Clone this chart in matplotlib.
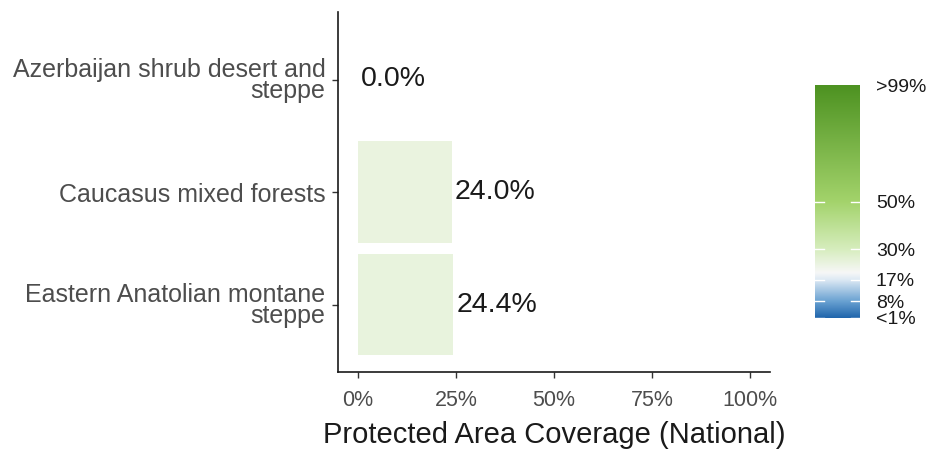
import numpy as np
import matplotlib
matplotlib.use("Agg")
import matplotlib.pyplot as plt
from matplotlib.colors import LinearSegmentedColormap, Normalize

plt.rcParams['font.family'] = ['Liberation Sans', 'DejaVu Sans']

ecoregions = ["Azerbaijan shrub desert and\nsteppe",
              "Caucasus mixed forests",
              "Eastern Anatolian montane\nsteppe"]
coverage = [0.0, 24.0, 24.4]

x_ticks = [0, 25, 50, 75, 100]
x_tick_labels = ["0%", "25%", "50%", "75%", "100%"]

legend_ticks = [1, 8, 17, 30, 50, 99]
legend_labels = ["<1%", "8%", "17%", "30%", "50%", ">99%"]

# colour stops of the coverage scale (value, colour)
stop_values = [1, 8, 17, 20, 30, 50, 99]
stop_colours = ["#2166ac", "#6aa2d2", "#dde9f4", "#f7f7f7",
                "#d6edbd", "#a3d36b", "#4d9221"]


def main():
    norm = Normalize(vmin=1, vmax=99)
    cmap = LinearSegmentedColormap.from_list(
        "pa", list(zip([norm(v) for v in stop_values], stop_colours)))

    fig = plt.figure(figsize=(9.4, 4.49), dpi=100)
    ax = fig.add_axes([338 / 940, 1 - 372 / 449, 432 / 940, 360 / 449])

    y = np.arange(len(ecoregions))
    ax.barh(y, coverage, height=0.9, color=[cmap(norm(v)) for v in coverage])
    for yi, v in zip(y, coverage):
        ax.text(v + 0.8, yi, f"{v:.1f}%", ha="left", va="center",
                fontsize=20.5, color="#1a1a1a")

    ax.set_xlim(-5, 105)
    ax.set_ylim(len(ecoregions) - 0.4, -0.6)
    ax.set_xticks(x_ticks)
    ax.set_xticklabels(x_tick_labels)
    ax.set_yticks(y)
    ax.set_yticklabels(ecoregions, linespacing=0.85)
    ax.tick_params(axis="both", labelcolor="#4d4d4d",
                   length=4, width=1, color="#333333")
    ax.tick_params(axis="x", labelsize=15.5, pad=9)
    ax.tick_params(axis="y", labelsize=18, pad=5)
    ax.set_xlabel("Protected Area Coverage (National)", fontsize=21,
                  color="#1a1a1a", labelpad=7)
    for side in ("top", "right"):
        ax.spines[side].set_visible(False)
    for side in ("left", "bottom"):
        ax.spines[side].set_linewidth(1.2)
        ax.spines[side].set_color("#1a1a1a")

    # colour legend
    cax = fig.add_axes([815 / 940, 1 - 318 / 449, 45 / 940, 233 / 449])
    grad = np.linspace(1, 99, 256).reshape(-1, 1)
    cax.imshow(grad, aspect="auto", cmap=cmap, norm=norm, origin="lower",
               extent=[0, 1, 1, 99])
    cax.set_xlim(0, 1)
    cax.set_ylim(1, 99)
    for t in legend_ticks[:-1]:
        cax.plot([0, 0.2], [t, t], color="white", lw=1)
        cax.plot([0.8, 1], [t, t], color="white", lw=1)
    cax.set_xticks([])
    cax.yaxis.tick_right()
    cax.set_yticks(legend_ticks)
    cax.set_yticklabels(legend_labels)
    cax.tick_params(axis="y", length=0, labelsize=14, pad=11.5,
                    labelcolor="#1a1a1a")
    for s in cax.spines.values():
        s.set_visible(False)

    fig.savefig("out.png", dpi=100)


if __name__ == '__main__':
    main()
